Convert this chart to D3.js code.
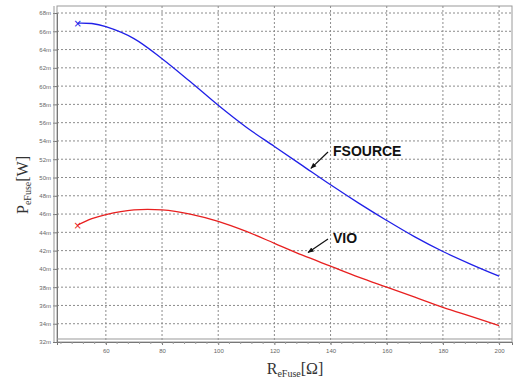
<!DOCTYPE html>
<html>
<head>
<meta charset="utf-8">
<script src="https://cdn.jsdelivr.net/npm/d3@7"></script>
<style>
  body { margin: 0; background: #fff; }
  svg { display: block; }
</style>
</head>
<body>
<script>
// resistance values (ohm) and power in mW
const rValues = [50, 55, 60, 70, 80, 90, 100, 110, 120, 130, 140, 150, 160, 170, 180, 190, 200]
const fsource = [66.9, 66.85, 66.5, 65.2, 63.0, 60.5, 57.9, 55.5, 53.4, 51.3, 49.2, 47.2, 45.3, 43.5, 41.9, 40.5, 39.2]
const vio = [44.8, 45.5, 45.95, 46.45, 46.45, 46.0, 45.2, 44.1, 42.8, 41.5, 40.3, 39.1, 38.0, 36.9, 35.8, 34.8, 33.8]
const xTicks = [60, 80, 100, 120, 140, 160, 180, 200]
const yTicks = d3.range(32, 69, 2)

const width = 517, height = 382
const plotLeft = 57, plotRight = 512, plotTop = 6, plotBottom = 342

const x = d3.scaleLinear().domain([42.6, 204.6]).range([plotLeft, plotRight])
const y = d3.scaleLinear().domain([32, 68]).range([plotBottom, 13])

const svg = d3.select("body").append("svg")
    .attr("width", width)
    .attr("height", height)

// frame
svg.append("rect")
    .attr("x", plotLeft).attr("y", plotTop)
    .attr("width", plotRight - plotLeft).attr("height", plotBottom - plotTop)
    .attr("fill", "#fff")
    .attr("stroke", "#9a9a9a")
    .attr("stroke-width", 1)

// grid
const grid = svg.append("g")
grid.append("g").selectAll("line").data(yTicks.slice(1)).join("line")
    .attr("x1", plotLeft).attr("x2", plotRight)
    .attr("y1", d => y(d)).attr("y2", d => y(d))
    .attr("stroke", "#8c8c8c").attr("stroke-width", 1)
    .attr("stroke-dasharray", "2,2")
grid.append("g").selectAll("line").data(xTicks).join("line")
    .attr("y1", plotTop).attr("y2", plotBottom)
    .attr("x1", d => x(d)).attr("x2", d => x(d))
    .attr("stroke", "#8c8c8c").attr("stroke-width", 1)
    .attr("stroke-dasharray", "2,2")

// y axis (double line look)
const yAxis = svg.append("g").attr("transform", `translate(${plotLeft},0)`)
    .call(d3.axisLeft(y).tickValues(yTicks).tickSize(4).tickFormat(d => d + "m"))
yAxis.select(".domain").attr("stroke", "#777").attr("stroke-width", 1)
yAxis.selectAll(".tick line").attr("stroke", "#777")
yAxis.selectAll("text").attr("font-family", "Liberation Sans Narrow, Arial Narrow, sans-serif")
    .attr("font-size", 6).attr("fill", "#666").attr("x", -6)
svg.append("line").attr("x1", plotLeft - 3).attr("x2", plotLeft - 3).attr("y1", plotTop).attr("y2", plotBottom)
    .attr("stroke", "#999")

// x axis
const xAxis = svg.append("g").attr("transform", `translate(0,${plotBottom})`)
    .call(d3.axisBottom(x).tickValues(xTicks).tickSize(3))
xAxis.select(".domain").attr("stroke", "#777")
xAxis.selectAll(".tick line").attr("stroke", "#777")
xAxis.selectAll("text").attr("font-family", "Liberation Sans Narrow, Arial Narrow, sans-serif")
    .attr("font-size", 6).attr("fill", "#666").attr("y", 7)
svg.append("line").attr("x1", plotLeft).attr("x2", plotRight).attr("y1", plotBottom - 3).attr("y2", plotBottom - 3)
    .attr("stroke", "#999")
// minor ticks on x
svg.append("g").selectAll("line").data(d3.range(44, 204, 4)).join("line")
    .attr("x1", d => x(d)).attr("x2", d => x(d))
    .attr("y1", plotBottom).attr("y2", plotBottom + 2)
    .attr("stroke", "#999")

// curves
const line = d3.line().curve(d3.curveCatmullRom.alpha(0.5))
    .x(d => x(d[0])).y(d => y(d[1]))

const series = [
    { name: "FSOURCE", values: fsource, color: "#2020e8" },
    { name: "VIO", values: vio, color: "#e82020" }
]
series.forEach(s => {
    const pts = rValues.map((r, i) => [r, s.values[i]])
    svg.append("path").datum(pts)
        .attr("d", line)
        .attr("fill", "none")
        .attr("stroke", s.color)
        .attr("stroke-width", 1.3)
    svg.append("text")
        .attr("x", x(pts[0][0])).attr("y", y(pts[0][1]) + 3.5)
        .attr("text-anchor", "middle")
        .attr("font-family", "DejaVu Sans, sans-serif")
        .attr("font-size", 10)
        .attr("fill", s.color)
        .text("×")
})

// annotations
svg.append("defs").append("marker")
    .attr("id", "arr").attr("viewBox", "0 0 10 10")
    .attr("refX", 9).attr("refY", 5)
    .attr("markerWidth", 5).attr("markerHeight", 5)
    .attr("orient", "auto")
    .append("path").attr("d", "M0,1 L10,5 L0,9 z").attr("fill", "#111")

const notes = [
    { label: "FSOURCE", r: 133, p: 51.0, tx: 333, ty: 156 },
    { label: "VIO", r: 132, p: 41.8, tx: 333, ty: 243 }
]
notes.forEach(n => {
    svg.append("line")
        .attr("x1", n.tx - 5).attr("y1", n.ty - 4)
        .attr("x2", x(n.r)).attr("y2", y(n.p))
        .attr("stroke", "#111").attr("stroke-width", 1.2)
        .attr("marker-end", "url(#arr)")
    svg.append("text")
        .attr("x", n.tx).attr("y", n.ty)
        .attr("font-family", "Liberation Sans, Arial, sans-serif")
        .attr("font-weight", "bold")
        .attr("font-size", 14)
        .attr("fill", "#111")
        .text(n.label)
})

// axis titles
const yt = svg.append("text")
    .attr("transform", "translate(28,185) rotate(-90)")
    .attr("text-anchor", "middle")
    .attr("font-family", "Liberation Serif, Times New Roman, serif")
    .attr("font-size", 16)
    .attr("fill", "#333")
yt.append("tspan").text("P")
yt.append("tspan").attr("font-size", 10).attr("dy", 3).text("eFuse")
yt.append("tspan").attr("dy", -3).text("[W]")

const xt = svg.append("text")
    .attr("x", 295).attr("y", 374)
    .attr("text-anchor", "middle")
    .attr("font-family", "Liberation Serif, Times New Roman, serif")
    .attr("font-size", 16)
    .attr("fill", "#333")
xt.append("tspan").text("R")
xt.append("tspan").attr("font-size", 10).attr("dy", 3).text("eFuse")
xt.append("tspan").attr("dy", -3).text("[Ω]")
</script>
</body>
</html>
